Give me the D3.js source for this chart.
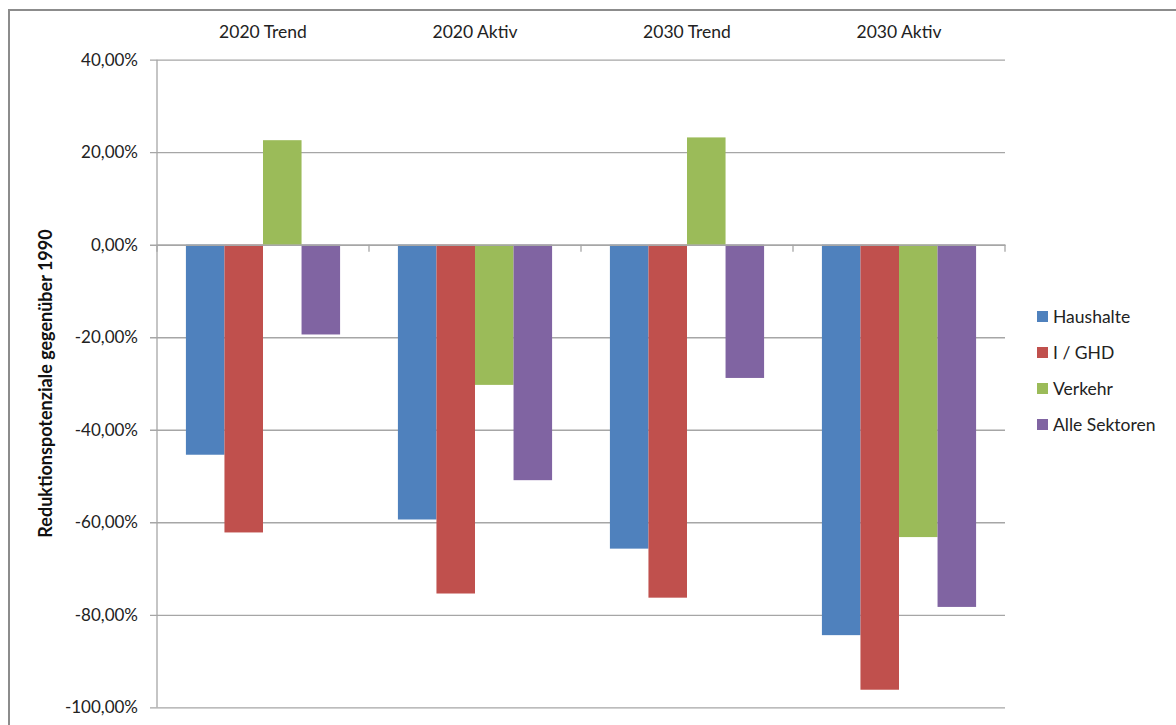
<!DOCTYPE html>
<html>
<head>
<meta charset="utf-8">
<script src="https://cdn.jsdelivr.net/npm/d3@7"></script>
<style>
  html, body { margin: 0; padding: 0; background: #fff; }
  svg { display: block; font-family: Lato, "Open Sans", sans-serif; }
</style>
</head>
<body>
<svg id="chart" width="1176" height="725"></svg>
<script>
// Scenarios along the x axis
const scenarios = ["2020 Trend", "2020 Aktiv", "2030 Trend", "2030 Aktiv"];
// Sectors (one bar each per scenario)
const sectors = ["Haushalte", "I / GHD", "Verkehr", "Alle Sektoren"];
const sectorColors = ["#4f81bd", "#c0504d", "#9bbb59", "#8064a2"];
// Reduction potential relative to 1990, in percent, per sector
const haushalte    = [-45.4, -59.4, -65.7, -84.4];
const iGhd         = [-62.2, -75.4, -76.3, -96.2];
const verkehr      = [ 22.6, -30.3,  23.2, -63.2];
const alleSektoren = [-19.4, -50.9, -28.8, -78.3];
// Value axis ticks
const yTicks = [40, 20, 0, -20, -40, -60, -80, -100];
const yTitle = "Reduktionspotenziale gegenüber 1990";

const seriesValues = [haushalte, iGhd, verkehr, alleSektoren];
const rows = scenarios.map((s, i) => ({
  scenario: s,
  values: sectors.map((name, k) => ({ sector: name, color: sectorColors[k], value: seriesValues[k][i] }))
}));

const svg = d3.select("#chart");
const plot = { left: 157, right: 1005, top: 59.7, bottom: 707.3 };

// Outer frame (top and left edges visible in the window)
svg.append("path")
  .attr("d", "M9,725 L9,10 L1176,10")
  .attr("fill", "none").attr("stroke", "#8c8c8c").attr("stroke-width", 2);

const x0 = d3.scaleBand().domain(scenarios).range([plot.left, plot.right]).paddingInner(0).paddingOuter(0);
// Excel-style gap of 150% of a bar width between clusters
const barW = x0.bandwidth() / (sectors.length + 1.5);
const x1 = d3.scaleBand().domain(sectors)
  .range([x0.bandwidth() / 2 - barW * 2, x0.bandwidth() / 2 + barW * 2]).padding(0);
const y = d3.scaleLinear().domain([-100, 40]).range([plot.bottom, plot.top]);

// Horizontal gridlines with left ticks
const yAxis = d3.axisLeft(y).tickValues(yTicks)
  .tickSize(-(plot.right - plot.left))
  .tickPadding(12)
  .tickFormat(d => d.toFixed(2).replace(".", ",") + "%");
const gy = svg.append("g").attr("transform", `translate(${plot.left},0)`).call(yAxis);
gy.select(".domain").remove();
gy.selectAll(".tick line")
  .attr("x1", -7)
  .attr("stroke", "#a6a6a6").attr("stroke-width", 1.3);
gy.selectAll(".tick text")
  .attr("x", -19)
  .attr("fill", "#222").attr("font-size", 17)
  .style("font-family", "Lato, sans-serif");

// Vertical value axis line
svg.append("line")
  .attr("x1", plot.left).attr("x2", plot.left)
  .attr("y1", plot.top).attr("y2", plot.bottom)
  .attr("stroke", "#a6a6a6").attr("stroke-width", 1.3);

// Bars
const groups = svg.append("g").selectAll("g").data(rows).join("g")
  .attr("transform", d => `translate(${x0(d.scenario)},0)`);
groups.selectAll("rect").data(d => d.values).join("rect")
  .attr("x", d => x1(d.sector))
  .attr("width", x1.bandwidth())
  .attr("y", d => y(Math.max(0, d.value)))
  .attr("height", d => Math.abs(y(d.value) - y(0)))
  .attr("fill", d => d.color);

// Category axis sitting on the zero line, ticks pointing down
const xAxis = d3.axisBottom(x0).tickSize(0).tickFormat("");
const gx = svg.append("g").attr("transform", `translate(0,${y(0)})`).call(xAxis);
gx.select(".domain").attr("stroke", "#a6a6a6").attr("stroke-width", 1.3);
const boundaries = scenarios.map(s => x0(s)).concat([plot.right]);
gx.selectAll(".bnd").data(boundaries).join("line")
  .attr("class", "bnd")
  .attr("x1", d => d).attr("x2", d => d)
  .attr("y1", 0).attr("y2", 7)
  .attr("stroke", "#a6a6a6").attr("stroke-width", 1.3);

// Category labels above the plot
svg.append("g").selectAll("text").data(scenarios).join("text")
  .attr("x", d => x0(d) + x0.bandwidth() / 2)
  .attr("y", 38)
  .attr("text-anchor", "middle")
  .attr("font-size", 17.5)
  .attr("fill", "#222")
  .text(d => d);

// Value axis title
svg.append("text")
  .attr("transform", `translate(52,${(plot.top + plot.bottom) / 2}) rotate(-90)`)
  .attr("text-anchor", "middle")
  .attr("font-size", 18)
  .attr("font-weight", "bold")
  .attr("fill", "#111")
  .text(yTitle);

// Legend
const legend = svg.append("g").attr("transform", "translate(1037,316)");
const items = legend.selectAll("g").data(sectors).join("g")
  .attr("transform", (d, i) => `translate(0,${i * 36})`);
items.append("rect")
  .attr("x", 0).attr("y", -5).attr("width", 11).attr("height", 11)
  .attr("fill", (d, i) => sectorColors[i]);
items.append("text")
  .attr("x", 16).attr("y", 6.5)
  .attr("font-size", 17.5)
  .attr("fill", "#222")
  .text(d => d);
</script>
</body>
</html>
